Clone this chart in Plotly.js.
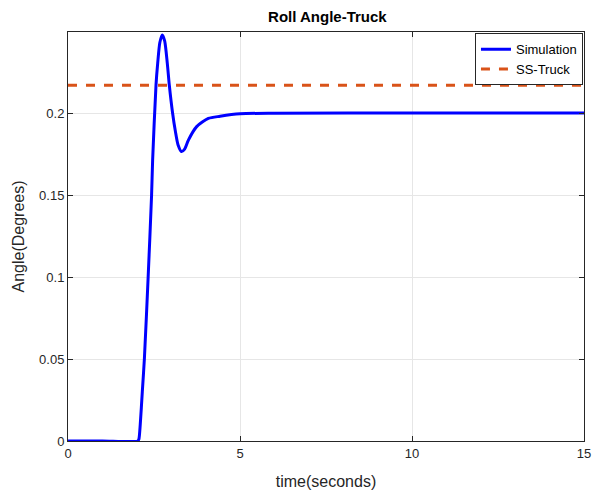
<!DOCTYPE html>
<html>
<head>
<meta charset="utf-8">
<script src="https://cdn.plot.ly/plotly-3.0.1.min.js"></script>
<style>html,body{margin:0;padding:0;background:#fff;}#chart{width:592px;height:493px;}</style>
</head>
<body>
<div id="chart"></div>
<script>
var simTime = [0, 1.0, 2.03, 2.06, 2.10, 2.16, 2.22, 2.33, 2.43, 2.46, 2.558, 2.607, 2.67, 2.741, 2.81, 2.887, 2.945, 3.04, 3.12, 3.20, 3.30, 3.39, 3.50, 3.74, 4.08, 4.42, 5.0, 6.0, 10, 15];
var simAngle = [0, 0, 0, 0.001, 0.01, 0.03, 0.05, 0.10, 0.15, 0.171, 0.217, 0.2303, 0.243, 0.2476, 0.244, 0.2303, 0.217, 0.200, 0.189, 0.1805, 0.1765, 0.178, 0.1835, 0.1917, 0.1967, 0.198, 0.1995, 0.1999, 0.2, 0.2];
var ssTime = [0, 15];
var ssAngle = [0.217, 0.217];
var yTicks = [0, 0.05, 0.1, 0.15, 0.2];
var yTickText = ['0', '0.05', '0.1', '0.15', '0.2'];
var xTicks = [0, 5, 10, 15];

var traces = [
  {x: simTime, y: simAngle, type: 'scatter', mode: 'lines', name: 'Simulation',
   line: {color: '#0000ff', width: 3, shape: 'spline', smoothing: 0.7}},
  {x: ssTime, y: ssAngle, type: 'scatter', mode: 'lines', name: 'SS-Truck',
   line: {color: '#D95319', width: 3, dash: '9px,9px'}}
];
var axisCommon = {
  showline: true, mirror: 'ticks', linecolor: '#262626', linewidth: 1,
  ticks: 'inside', ticklen: 5, tickcolor: '#262626',
  showgrid: true, gridcolor: '#e6e6e6', gridwidth: 1, zeroline: false,
  tickfont: {family: 'Liberation Sans, Arial, sans-serif', size: 13, color: '#262626'}
};
var layout = {
  width: 592, height: 493,
  margin: {l: 68, r: 8, t: 32, b: 52},
  paper_bgcolor: '#ffffff', plot_bgcolor: '#ffffff',
  title: {text: '<b>Roll Angle-Truck</b>', x: 0.553, xanchor: 'center', y: 0.966, yanchor: 'middle',
          font: {family: 'Liberation Sans, Arial, sans-serif', size: 15, color: '#000'}},
  xaxis: Object.assign({}, axisCommon, {range: [0, 15], tickvals: xTicks,
    title: {text: 'time(seconds)', standoff: 16, font: {family: 'Liberation Sans, Arial, sans-serif', size: 16, color: '#262626'}}}),
  yaxis: Object.assign({}, axisCommon, {range: [0, 0.2494], tickvals: yTicks, ticktext: yTickText,
    title: {text: 'Angle(Degrees)', standoff: 10, font: {family: 'Liberation Sans, Arial, sans-serif', size: 16, color: '#262626'}}}),
  legend: {x: 0.998, xanchor: 'right', y: 0.997, yanchor: 'top', bgcolor: '#ffffff',
    bordercolor: '#262626', borderwidth: 1, tracegroupgap: 0,
    font: {family: 'Liberation Sans, Arial, sans-serif', size: 13, color: '#000'}},
  showlegend: true
};
Plotly.newPlot('chart', traces, layout, {displayModeBar: false, staticPlot: true});
</script>
</body>
</html>
